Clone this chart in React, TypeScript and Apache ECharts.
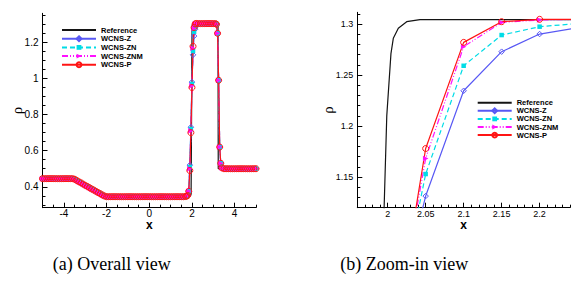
import React, { useEffect, useRef } from "react";
import * as echarts from "echarts";

// ---------- names ----------
const seriesNames = ["Reference", "WCNS-Z", "WCNS-ZN", "WCNS-ZNM", "WCNS-P"];
const captions = ["(a) Overall view", "(b) Zoom-in view"];
const xName = "x";
const yName = "ρ";

// ---------- (a) overall view ----------
const xOverall = [
  -5, -4.9, -4.8, -4.7, -4.6, -4.5, -4.4, -4.3, -4.2, -4.1, -4, -3.9, -3.8, -3.7, -3.6,
  -3.5, -3.4, -3.3, -3.2, -3.1, -3, -2.9, -2.8, -2.7, -2.6, -2.5, -2.4, -2.3, -2.2, -2.1, -2,
  -1.9, -1.8, -1.7, -1.6, -1.5, -1.4, -1.3, -1.2, -1.1, -1, -0.9, -0.8, -0.7, -0.6, -0.5, -0.4,
  -0.3, -0.2, -0.1, 0, 0.1, 0.2, 0.3, 0.4, 0.5, 0.6, 0.7, 0.8, 0.9, 1, 1.1, 1.2, 1.3, 1.4, 1.5,
  1.6, 1.7,
  1.75, 1.8, 1.85, 1.9, 1.95, 2, 2.05, 2.1, 2.15, 2.2,
  2.3, 2.4, 2.5, 2.6, 2.7, 2.8, 2.9, 3, 3.1,
  3.15, 3.2, 3.25, 3.3, 3.35, 3.4,
  3.5, 3.6, 3.7, 3.8, 3.9, 4, 4.1, 4.2, 4.3, 4.4, 4.5, 4.6, 4.7, 4.8, 4.9, 5,
];
const rhoOverall = [
  0.445, 0.445, 0.445, 0.445, 0.445, 0.445, 0.445, 0.445, 0.445, 0.445, 0.445, 0.445, 0.445, 0.445, 0.445,
  0.442, 0.435, 0.428, 0.422, 0.415, 0.408, 0.402, 0.395, 0.388, 0.382, 0.375, 0.368, 0.362, 0.355, 0.349, 0.345,
  0.345, 0.345, 0.345, 0.345, 0.345, 0.345, 0.345, 0.345, 0.345, 0.345, 0.345, 0.345, 0.345, 0.345, 0.345, 0.345,
  0.345, 0.345, 0.345, 0.345, 0.345, 0.345, 0.345, 0.345, 0.345, 0.345, 0.345, 0.345, 0.345, 0.345, 0.345, 0.345, 0.345, 0.345, 0.345,
  0.345, 0.346,
  0.348, 0.352, 0.375, 0.5, 0.71, 0.96, 1.17, 1.28, 1.3, 1.303,
  1.304, 1.304, 1.304, 1.304, 1.304, 1.304, 1.304, 1.304, 1.304,
  1.3, 1.25, 0.99, 0.62, 0.53, 0.505,
  0.5, 0.5, 0.5, 0.5, 0.5, 0.5, 0.5, 0.5, 0.5, 0.5, 0.5, 0.5, 0.5, 0.5, 0.5, 0.5,
];
// per-scheme values across the contact discontinuity
const xContact = [1.9, 1.95, 2, 2.05, 2.1, 2.15, 2.2];
const rhoContactZ = [0.52, 0.73, 0.98, 1.131, 1.235, 1.273, 1.29];
const rhoContactZN = [0.51, 0.72, 0.97, 1.153, 1.259, 1.289, 1.297];
const rhoContactZNM = [0.5, 0.71, 0.96, 1.168, 1.278, 1.302, 1.304];
const rhoContactP = [0.49, 0.7, 0.95, 1.178, 1.282, 1.302, 1.3046];

const xRefOverall = [-5, -3.52, -2.07, 1.82, 1.93, 1.96, 1.99, 1.9953, 2.0043, 2.014, 2.04, 3.22, 3.232, 5];
const rhoRefOverall = [0.445, 0.445, 0.345, 0.345, 0.35, 0.36, 0.95, 1.12, 1.271, 1.296, 1.304, 1.304, 0.5, 0.5];

const xTicksOverall = [-4, -2, 0, 2, 4];
const yTicksOverall = [0.4, 0.6, 0.8, 1, 1.2];

// ---------- (b) zoom-in view ----------
const xZoom = [2, 2.05, 2.1, 2.15, 2.2, 2.25];
const rhoZoomZ = [0.98, 1.1314, 1.2346, 1.2729, 1.2902, 1.2963];
const rhoZoomZN = [0.97, 1.153, 1.2591, 1.2892, 1.2974, 1.3005];
const rhoZoomZNM = [0.96, 1.1683, 1.2778, 1.3016, 1.304, 1.3044];
const rhoZoomP = [0.95, 1.178, 1.282, 1.3023, 1.3046, 1.3046];

const xRefZoom = [1.99, 1.9953, 1.9988, 2.0043, 2.0074, 2.014, 2.025, 2.0425, 2.25];
const rhoRefZoom = [0.95, 1.12, 1.21, 1.271, 1.286, 1.2958, 1.3023, 1.3044, 1.3044];

const xTicksZoom = [2, 2.05, 2.1, 2.15, 2.2];
const yTicksZoom = [1.15, 1.2, 1.25, 1.3];

// ---------- helpers ----------
const SANS = "'Liberation Sans', Arial, Helvetica, sans-serif";
const SERIF = "'Liberation Serif', 'Times New Roman', serif";

function steps(from: number, to: number, step: number): number[] {
  const out: number[] = [];
  const n = Math.round((to - from) / step);
  for (let i = 0; i <= n; i++) out.push(parseFloat((from + i * step).toFixed(6)));
  return out;
}

const fmt = (v: number) => String(parseFloat(Number(v).toFixed(4)));

type Sty = { color: string; symbol: string; hollow?: boolean; rotate?: number; type: any; size: number };
const styles: Record<string, Sty> = {
  Reference: { color: "#141414", symbol: "none", type: "solid", size: 0 },
  "WCNS-Z": { color: "#5858f4", symbol: "diamond", hollow: true, type: "solid", size: 5.5 },
  "WCNS-ZN": { color: "#00dce6", symbol: "rect", type: [5, 3], size: 4.5 },
  "WCNS-ZNM": { color: "#ff10ff", symbol: "triangle", rotate: -90, type: [6, 2, 1, 2, 1, 2], size: 5.5 },
  "WCNS-P": { color: "#ff1414", symbol: "circle", hollow: true, type: "solid", size: 6 },
};

function pairs(xs: number[], ys: number[]) {
  return xs.map((x, i) => [x, ys[i]]);
}
function withContact(over: number[]) {
  return xOverall.map((x, i) => {
    const k = xContact.indexOf(x);
    return [x, k >= 0 ? over[k] : rhoOverall[i]];
  });
}

function makeSeries(name: string, data: number[][], axisIdx: number) {
  const s = styles[name];
  return {
    type: "line",
    name,
    data,
    xAxisIndex: axisIdx,
    yAxisIndex: axisIdx,
    symbol: s.symbol,
    symbolSize: s.size,
    symbolRotate: s.rotate || 0,
    clip: true,
    silent: true,
    emphasis: { disabled: true },
    lineStyle: { color: s.color, width: 1.2, type: s.type },
    itemStyle: s.hollow
      ? { color: "rgba(255,255,255,0)", borderColor: s.color, borderWidth: 1 }
      : { color: s.color, borderWidth: 0 },
  };
}

function majorAxis(opts: {
  grid: number; pos: string; min: number; max: number; ticks: number[]; fontSize: number;
  name: string; nameGap: number; isY: boolean;
}) {
  return {
    type: "value",
    gridIndex: opts.grid,
    position: opts.pos,
    min: opts.min,
    max: opts.max,
    name: opts.name,
    nameLocation: "middle",
    nameGap: opts.nameGap,
    nameMoveOverlap: false,
    nameTextStyle: opts.isY
      ? { fontFamily: SERIF, fontSize: 15, color: "#000" }
      : { fontFamily: SANS, fontSize: 12, fontWeight: "bold", color: "#000", lineHeight: 9 },
    axisLine: { show: true, onZero: false, lineStyle: { color: "#000", width: 1 } },
    axisTick: { show: true, inside: true, length: 5, customValues: opts.ticks, lineStyle: { color: "#000", width: 1 } },
    axisLabel: {
      show: true,
      customValues: opts.ticks,
      margin: opts.isY ? 4 : 2,
      lineHeight: opts.isY ? undefined : 8,
      fontFamily: SANS,
      fontSize: opts.fontSize,
      color: "#000",
      formatter: fmt,
      hideOverlap: false,
    },
    splitLine: { show: false },
    minorTick: { show: false },
  };
}
function minorAxis(grid: number, pos: string, min: number, max: number, ticks: number[]) {
  return {
    type: "value",
    gridIndex: grid,
    position: pos,
    min,
    max,
    axisLine: { show: false, onZero: false },
    axisTick: { show: true, inside: true, length: 3, customValues: ticks, lineStyle: { color: "#000", width: 1 } },
    axisLabel: { show: false },
    splitLine: { show: false },
  };
}

// axis ranges
const X0 = [-5, 5];
const Y0 = [0.284, 1.361];
const X1 = [1.96, 2.24];
const Y1 = [1.12, 1.3115];

const legendData = seriesNames.map((n) =>
  n === "Reference"
    ? { name: n, itemStyle: { color: "rgba(0,0,0,0)", borderWidth: 0, opacity: 0 } }
    : { name: n }
);

const legendBase = {
  data: legendData,
  orient: "vertical",
  itemWidth: 34,
  itemHeight: 6,
  padding: 0,
  selectedMode: false,
  textStyle: { fontFamily: SANS, fontSize: 7.5, fontWeight: "bold", color: "#000", lineHeight: 8 },
};

const option: any = {
  animation: false,
  backgroundColor: "#ffffff",
  grid: [
    { left: 42.5, top: 13.3, width: 213.5, height: 194.4, containLabel: false, outerBoundsMode: "none" },
    { left: 357.3, top: 12.3, width: 212.7, height: 195.4, containLabel: false, outerBoundsMode: "none" },
  ],
  xAxis: [
    majorAxis({ grid: 0, pos: "bottom", min: X0[0], max: X0[1], ticks: xTicksOverall, fontSize: 10, name: xName, nameGap: 13, isY: false }),
    majorAxis({ grid: 1, pos: "bottom", min: X1[0], max: X1[1], ticks: xTicksZoom, fontSize: 9, name: xName, nameGap: 13, isY: false }),
    minorAxis(0, "bottom", X0[0], X0[1], steps(-5, 5, 0.5)),
    minorAxis(1, "bottom", X1[0], X1[1], steps(1.96, 2.24, 0.01)),
  ],
  yAxis: [
    majorAxis({ grid: 0, pos: "left", min: Y0[0], max: Y0[1], ticks: yTicksOverall, fontSize: 10, name: yName, nameGap: 18, isY: true }),
    majorAxis({ grid: 1, pos: "left", min: Y1[0], max: Y1[1], ticks: yTicksZoom, fontSize: 9, name: yName, nameGap: 21.5, isY: true }),
    minorAxis(0, "left", Y0[0], Y0[1], steps(0.3, 1.35, 0.05)),
    minorAxis(1, "left", Y1[0], Y1[1], steps(1.12, 1.31, 0.01)),
  ],
  legend: [
    { ...legendBase, left: 61, top: 26, itemGap: 0.7 },
    { ...legendBase, left: 476.7, top: 98.7, itemGap: 0.1 },
  ],
  graphic: [
    {
      type: "text",
      left: 111.7 - 59,
      top: 255,
      style: { text: captions[0], fontFamily: SERIF, fontSize: 18, fill: "#000" },
    },
    {
      type: "text",
      left: 403.3 - 63,
      top: 255,
      style: { text: captions[1], fontFamily: SERIF, fontSize: 18, fill: "#000" },
    },
  ],
  series: [
    makeSeries("Reference", pairs(xRefOverall, rhoRefOverall), 0),
    makeSeries("WCNS-Z", withContact(rhoContactZ), 0),
    makeSeries("WCNS-ZN", withContact(rhoContactZN), 0),
    makeSeries("WCNS-ZNM", withContact(rhoContactZNM), 0),
    makeSeries("WCNS-P", withContact(rhoContactP), 0),
    makeSeries("Reference", pairs(xRefZoom, rhoRefZoom), 1),
    makeSeries("WCNS-Z", pairs(xZoom, rhoZoomZ), 1),
    makeSeries("WCNS-ZN", pairs(xZoom, rhoZoomZN), 1),
    makeSeries("WCNS-ZNM", pairs(xZoom, rhoZoomZNM), 1),
    makeSeries("WCNS-P", pairs(xZoom, rhoZoomP), 1),
  ],
};

export default function App() {
  const ref = useRef<HTMLDivElement>(null);
  useEffect(() => {
    if (!ref.current) return;
    const chart = echarts.init(ref.current, null, { renderer: "svg" });
    chart.setOption(option);
    return () => chart.dispose();
  }, []);
  return (
    <div
      ref={ref}
      style={{ position: "fixed", left: 0, top: 0, width: 584, height: 288, background: "#fff" }}
    />
  );
}
